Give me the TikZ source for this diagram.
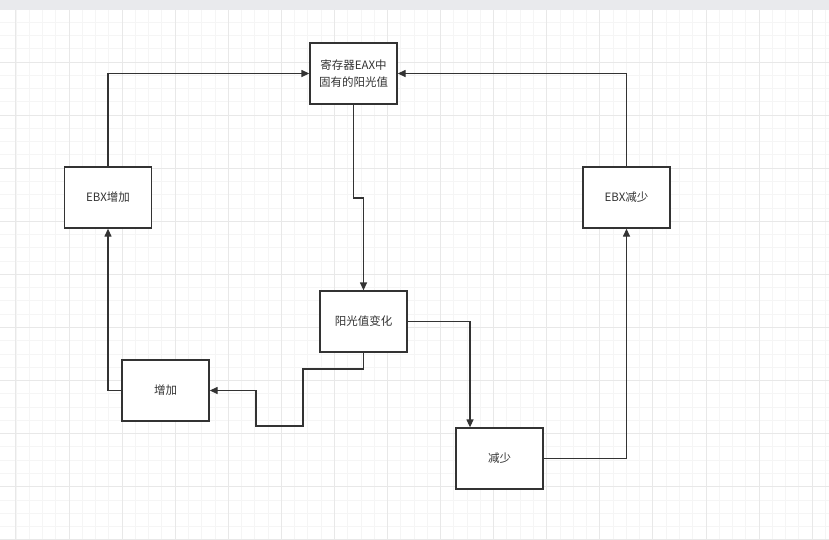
\documentclass[tikz,border=0pt]{standalone}
\usepackage{fontspec}
\setmainfont{Noto Sans CJK SC}
\usetikzlibrary{positioning,arrows.meta,calc}
\definecolor{inkgrey}{HTML}{333333}
\definecolor{gridlight}{HTML}{F5F5F5}
\definecolor{griddark}{HTML}{E8E8E8}
\definecolor{barcol}{HTML}{E9EAED}

\begin{document}
\begin{tikzpicture}[
  x=1pt, y=-1pt,
  every node/.style={font=\fontsize{11.5}{17}\selectfont, text=inkgrey},
  box/.style={rectangle, draw=inkgrey, line width=1.3pt, fill=white, align=center,
              minimum width=87pt, minimum height=61pt, inner sep=2pt},
  flow/.style={-{Triangle[length=8pt,width=7pt]}, line width=1.3pt, draw=inkgrey},
  minorline/.style={gridlight, line width=0.8pt},
  majorline/.style={griddark, line width=0.9pt}
]
\useasboundingbox (0,0) rectangle (829,539);
% canvas grid
\fill[white] (0,0) rectangle (829,539);
\fill[barcol] (0,0) rectangle (829,10);
\foreach \i in {0,...,61}
  \draw[minorline] ({15.9+13.27*\i},10) -- ({15.9+13.27*\i},539);
\foreach \i in {1,...,40}
  \draw[minorline] (0,{8.9+13.27*\i}) -- (829,{8.9+13.27*\i});
\foreach \i in {0,...,15}
  \draw[majorline] ({15.9+53.08*\i},10) -- ({15.9+53.08*\i},539);
\foreach \i in {1,...,10}
  \draw[majorline] (0,{8.9+53.08*\i}) -- (829,{8.9+53.08*\i});

% boxes
\node[box] (eax) at (353.5,73.5) {寄存器EAX中\\固有的阳光值};
\node[box] (ebxinc) at (108,197.5) {EBX增加};
\node[box] (ebxdec) at (626.5,197.5) {EBX减少};
\node[box] (change) at (363.5,321.5) {阳光值变化};
\node[box] (inc) at (165.5,390.5) {增加};
\node[box] (dec) at (499.5,458.5) {减少};

% bends
\coordinate (j1) at (0,198);
\coordinate (d1) at (470,0);
\coordinate (w1) at (303,369);
\coordinate (w2) at (256,426);

% connectors
\draw[flow] (ebxinc.north) |- (eax.west);
\draw[flow] (ebxdec.north) |- (eax.east);
\draw[flow] (eax.south) -- (eax.south |- j1) -| (change.north);
\draw[flow] (change.east) -| (d1 |- dec.north);
\draw[flow] (change.south) |- (w1) |- (w2) |- (inc.east);
\draw[flow] (inc.west) -| (ebxinc.south);
\draw[flow] (dec.east) -| (ebxdec.south);
\end{tikzpicture}
\end{document}
